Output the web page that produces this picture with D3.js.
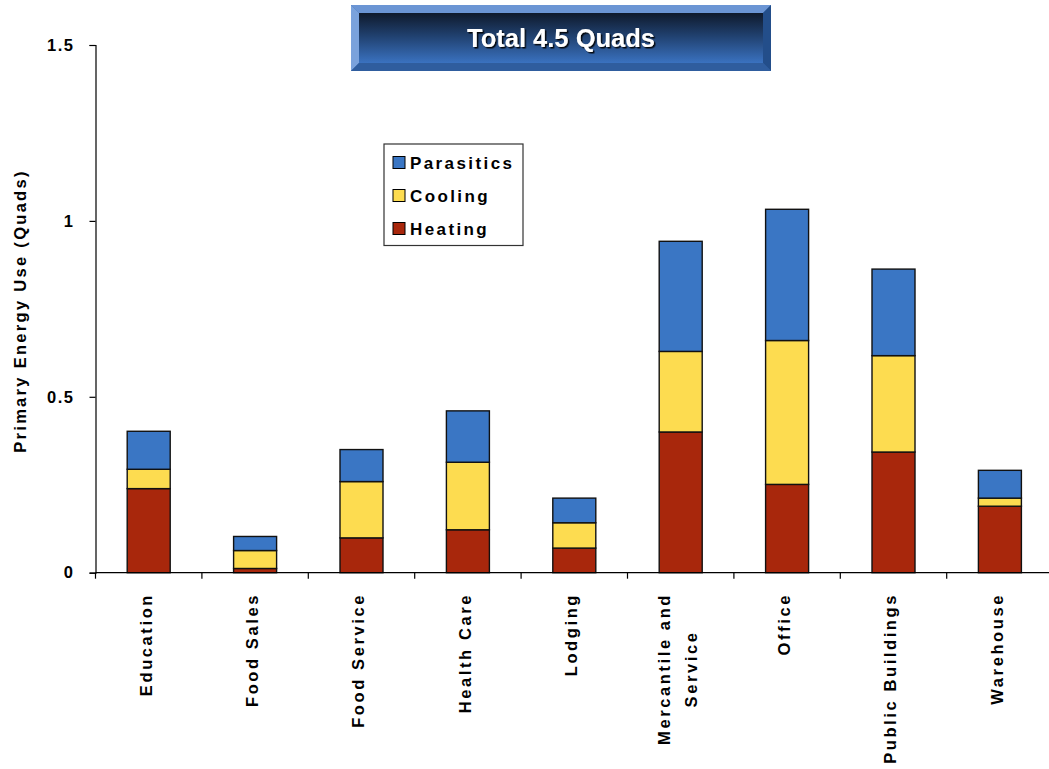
<!DOCTYPE html>
<html><head><meta charset="utf-8">
<script src="https://cdn.jsdelivr.net/npm/d3@7"></script>
<style>body{margin:0;background:#fff;}svg{display:block;font-family:Arial,"Liberation Sans",sans-serif;}</style>
</head><body><svg id="c" width="1049" height="769"></svg>
<script>
const categories = ["Education","Food Sales","Food Service","Health Care","Lodging","Mercantile and\nService","Office","Public Buildings","Warehouse"];
const heating    = [0.239, 0.012, 0.099, 0.122, 0.070, 0.400, 0.251, 0.343, 0.189];
const cooling    = [0.055, 0.051, 0.160, 0.192, 0.072, 0.229, 0.409, 0.274, 0.023];
const parasitics = [0.108, 0.040, 0.091, 0.146, 0.070, 0.313, 0.373, 0.246, 0.079];
const seriesNames = ["Heating","Cooling","Parasitics"];
const seriesColors = ["#a8270c","#fddc50","#3a76c4"];
const yTicks = [0, 0.5, 1, 1.5];
const titleText = "Total 4.5 Quads";
const yTitle = "Primary Energy Use (Quads)";

const svg = d3.select("#c");
const x0 = 95.5, yZero = 572.7, yTop = 45;
const x = d3.scaleBand().domain(categories).range([x0, x0 + 9*106.4]).paddingInner(0).paddingOuter(0);
const y = d3.scaleLinear().domain([0,1.5]).range([yZero, yTop]);

const rows = categories.map((c,i)=>({cat:c, Heating:heating[i], Cooling:cooling[i], Parasitics:parasitics[i]}));
const stack = d3.stack().keys(seriesNames)(rows);
const barW = 43;

// bars
stack.forEach((s,si)=>{
  svg.append("g").selectAll("rect").data(s).join("rect")
    .attr("x", d=>x(d.data.cat)+x.bandwidth()/2-barW/2)
    .attr("y", d=>y(d[1]))
    .attr("width", barW)
    .attr("height", d=>y(d[0])-y(d[1]))
    .attr("fill", seriesColors[si])
    .attr("stroke","#111").attr("stroke-width",1.4);
});

// y axis
const yAx = svg.append("g").attr("transform",`translate(${x0},0)`)
  .call(d3.axisLeft(y).tickValues(yTicks).tickFormat(d=>d3.format("")(d)).tickSize(6).tickPadding(15));
yAx.select(".domain").attr("stroke","#000").attr("stroke-width",1.2);
yAx.selectAll(".tick line").attr("stroke","#000").attr("stroke-width",1.2);
yAx.selectAll(".tick text").attr("font-size",16.5).attr("font-weight","bold").attr("fill","#000")
  .attr("letter-spacing","1.5px")
  .attr("font-family","Arial, 'Liberation Sans', sans-serif");

// x axis
const bounds = [x0, ...categories.map(c=>x(c)+x.bandwidth())];
svg.append("line").attr("x1",x0).attr("x2",1049).attr("y1",yZero).attr("y2",yZero).attr("stroke","#000").attr("stroke-width",1.2);
svg.append("g").selectAll("line").data(bounds).join("line")
  .attr("x1",d=>d).attr("x2",d=>d).attr("y1",yZero).attr("y2",yZero+6).attr("stroke","#000").attr("stroke-width",1.2);

// x labels
const labTop = 593, lineGap = 27;
categories.forEach(c=>{
  const lines = c.split("\n");
  const cx = x(c)+x.bandwidth()/2;
  const g = svg.append("g");
  const texts = lines.map((ln,li)=>g.append("text").text(ln)
      .attr("font-size",16.5).attr("font-weight","bold").attr("letter-spacing","2.6px").attr("fill","#000")
      .attr("dy","0.36em"));
  const lens = texts.map(t=>t.node().getComputedTextLength());
  const maxL = d3.max(lens);
  texts.forEach((t,li)=>{
    const off = (li - (lines.length-1)/2)*lineGap - 3;
    const py = labTop + maxL/2;
    t.attr("text-anchor","middle")
     .attr("transform",`translate(${cx+off},${py}) rotate(-90)`);
  });
});

// y title
svg.append("text").text(yTitle)
  .attr("transform","translate(20,311) rotate(-90)")
  .attr("text-anchor","middle").attr("dy","0.36em")
  .attr("font-size",16.5).attr("font-weight","bold").attr("letter-spacing","2.3px").attr("fill","#000");

// legend
const lg = svg.append("g");
lg.append("rect").attr("x",384).attr("y",144).attr("width",139).attr("height",101.5)
  .attr("fill","#fff").attr("stroke","#333").attr("stroke-width",1.2);
const legOrder = [2,1,0];
legOrder.forEach((si,k)=>{
  const yy = 163 + k*33;
  lg.append("rect").attr("x",393).attr("y",yy-6.5).attr("width",12).attr("height",12)
    .attr("fill",seriesColors[si]).attr("stroke","#000").attr("stroke-width",1);
  lg.append("text").attr("x",410).attr("y",yy).attr("dy","0.36em").text(seriesNames[si])
    .attr("font-size",17).attr("font-weight","bold").attr("letter-spacing","2.4px").attr("fill","#000");
});

// title box
const defs = svg.append("defs");
const gr = defs.append("linearGradient").attr("id","tg").attr("x1",0).attr("y1",0).attr("x2",0).attr("y2",1);
gr.append("stop").attr("offset","0%").attr("stop-color","#0f1a2c");
gr.append("stop").attr("offset","45%").attr("stop-color","#20406e");
gr.append("stop").attr("offset","100%").attr("stop-color","#3a72c0");
const flt = defs.append("filter").attr("id","sh").attr("x","-10%").attr("y","-20%").attr("width","130%").attr("height","150%");
flt.append("feDropShadow").attr("dx",1.5).attr("dy",1.5).attr("stdDeviation",0.6).attr("flood-color","#000").attr("flood-opacity",0.9);

const bx=351, by=5, bw=420, bh=66, bv=8;
svg.append("rect").attr("x",bx).attr("y",by).attr("width",bw).attr("height",bh).attr("fill","#3563a8");
svg.append("polygon").attr("points",`${bx},${by} ${bx+bw},${by} ${bx+bw-bv},${by+bv} ${bx+bv},${by+bv}`).attr("fill","#6b95d4");
svg.append("polygon").attr("points",`${bx},${by} ${bx+bv},${by+bv} ${bx+bv},${by+bh-bv} ${bx},${by+bh}`).attr("fill","#7aa2dc");
svg.append("polygon").attr("points",`${bx+bw},${by} ${bx+bw},${by+bh} ${bx+bw-bv},${by+bh-bv} ${bx+bw-bv},${by+bv}`).attr("fill","#234e8a");
svg.append("polygon").attr("points",`${bx},${by+bh} ${bx+bw},${by+bh} ${bx+bw-bv},${by+bh-bv} ${bx+bv},${by+bh-bv}`).attr("fill","#2f5d9e");
svg.append("rect").attr("x",bx+bv).attr("y",by+bv).attr("width",bw-2*bv).attr("height",bh-2*bv).attr("fill","url(#tg)");
svg.append("text").attr("x",bx+bw/2).attr("y",47).attr("text-anchor","middle").text(titleText)
  .attr("font-size",25.5).attr("font-weight","bold").attr("fill","#fff").attr("filter","url(#sh)");
</script></body></html>
